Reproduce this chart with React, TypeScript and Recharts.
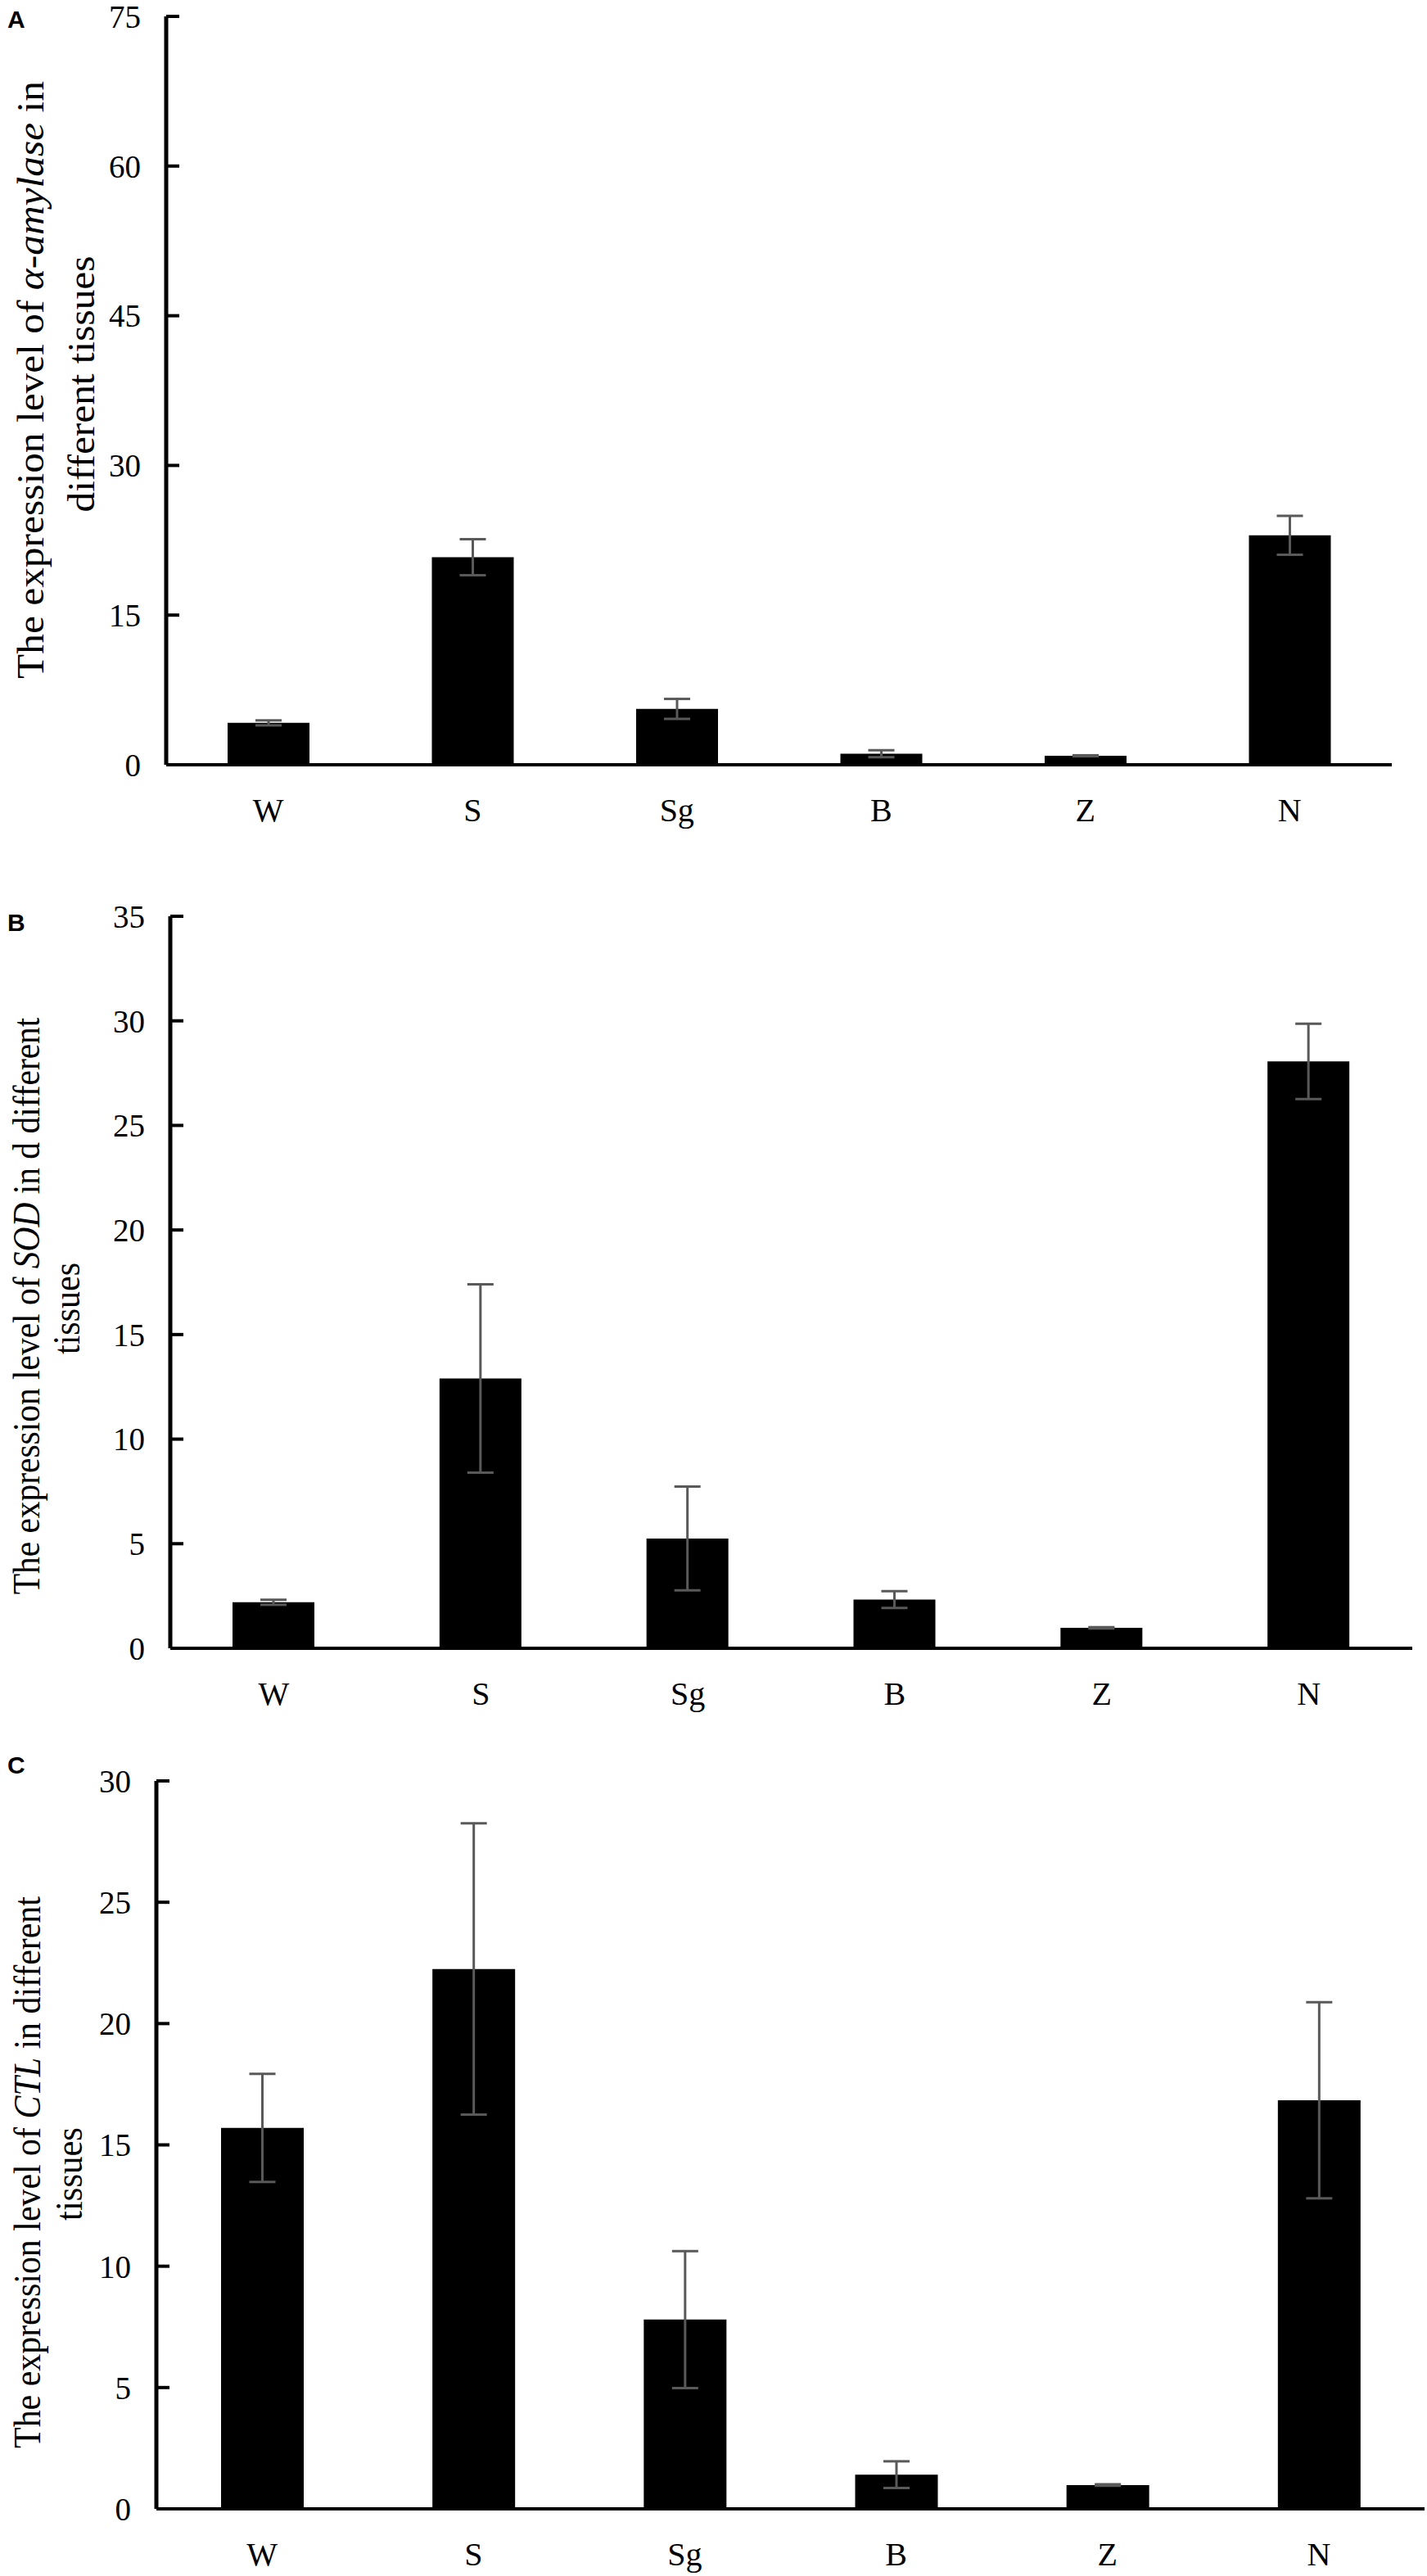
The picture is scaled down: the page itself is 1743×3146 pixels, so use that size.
import { useLayoutEffect, useRef, useState } from 'react';
import { BarChart, Bar, XAxis, YAxis, ErrorBar } from 'recharts';

// tissues on the x axis
const tissues = ['W', 'S', 'Sg', 'B', 'Z', 'N'];

// A: alpha-amylase
const amylaseMean = [4.2, 20.8, 5.6, 1.1, 0.9, 23.0];
const amylaseErr = [0.25, 1.8, 1.0, 0.35, 0.05, 1.95];
const amylaseTicks = [0, 15, 30, 45, 60, 75];

// B: SOD
const sodMean = [2.2, 12.9, 5.25, 2.33, 0.98, 28.06];
const sodErr = [0.12, 4.5, 2.48, 0.4, 0.03, 1.8];
const sodTicks = [0, 5, 10, 15, 20, 25, 30, 35];

// C: CTL
const ctlMean = [15.7, 22.25, 7.8, 1.41, 0.98, 16.84];
const ctlErr = [2.23, 6.0, 2.82, 0.55, 0.03, 4.04];
const ctlTicks = [0, 5, 10, 15, 20, 25, 30];

const FONT = '"Liberation Serif", "Times New Roman", serif';
const W = 1743;

type Part = { t: string; i?: boolean };
type Line = { x: number; y: number; len: number; parts: Part[] };

// rotated axis title squeezed to the length measured on the figure
const FitText = ({ x, y, len, parts }: Line) => {
  const ref = useRef<SVGTextElement>(null);
  const [sx, setSx] = useState(1);
  useLayoutEffect(() => {
    if (ref.current) {
      const w = ref.current.getComputedTextLength();
      if (w > 0) setSx(len / w);
    }
  }, [len]);
  return (
    <text
      ref={ref}
      transform={`translate(${x},${y}) rotate(-90) scale(${sx},1)`}
      textAnchor="middle"
      fontFamily={FONT}
      fontSize={46}
      fill="#000"
    >
      {parts.map((s, j) => (
        <tspan key={j} fontStyle={s.i ? 'italic' : 'normal'}>
          {s.t}
        </tspan>
      ))}
    </text>
  );
};

interface PanelProps {
  letter: string;
  letterY: number;
  mean: number[];
  err: number[];
  ticks: number[];
  top: number;
  height: number;
  marginTop: number;
  marginRight: number;
  axisWidth: number;
  xAxisHeight: number;
  barSize: number;
  lines: Line[];
}

const Panel = (p: PanelProps) => {
  const data = tissues.map((name, i) => ({ name, value: p.mean[i], err: p.err[i] }));
  const max = p.ticks[p.ticks.length - 1];

  const renderTitle = () => (
    <g>
      <text x={9} y={p.letterY} fontFamily='"Liberation Sans", Arial, sans-serif' fontWeight="bold" fontSize={30} fill="#000">
        {p.letter}
      </text>
      {p.lines.map((l, k) => (
        <FitText key={k} {...l} />
      ))}
    </g>
  );

  return (
    <div style={{ position: 'absolute', left: 0, top: p.top }}>
      <BarChart
        width={W}
        height={p.height}
        data={data}
        margin={{ top: p.marginTop, right: p.marginRight, bottom: 0, left: 0 }}
        barSize={p.barSize}
      >
        <XAxis
          dataKey="name"
          height={p.xAxisHeight}
          axisLine={{ stroke: '#000', strokeWidth: 4 }}
          tickLine={false}
          tickSize={0}
          tickMargin={41}
          tick={{ fill: '#000', fontSize: 40, fontFamily: FONT }}
        />
        <YAxis
          width={p.axisWidth}
          domain={[0, max]}
          ticks={p.ticks}
          interval={0}
          axisLine={{ stroke: '#000', strokeWidth: 5 }}
          tickLine={{ stroke: '#000', strokeWidth: 4 }}
          tickSize={-16}
          tickMargin={47}
          tick={{ fill: '#000', fontSize: 39, fontFamily: FONT }}
          label={renderTitle}
        />
        <Bar dataKey="value" fill="#000" isAnimationActive={false}>
          <ErrorBar dataKey="err" width={16} stroke="#595959" strokeWidth={3} direction="y" />
        </Bar>
      </BarChart>
    </div>
  );
};

export default function App() {
  return (
    <div style={{ position: 'absolute', left: 0, top: 0, width: W, height: 3146, background: '#fff' }}>
      <Panel
        letter="A"
        letterY={34}
        mean={amylaseMean}
        err={amylaseErr}
        ticks={amylaseTicks}
        top={0}
        height={1060}
        marginTop={20}
        marginRight={43}
        axisWidth={203}
        xAxisHeight={126}
        barSize={100}
        lines={[
          { x: 53, y: 464, len: 730, parts: [{ t: 'The expression level of ' }, { t: 'α-amylase', i: true }, { t: ' in' }] },
          { x: 115, y: 469, len: 313, parts: [{ t: 'different tissues' }] },
        ]}
      />
      <Panel
        letter="B"
        letterY={77}
        mean={sodMean}
        err={sodErr}
        ticks={sodTicks}
        top={1060}
        height={1090}
        marginTop={59}
        marginRight={18}
        axisWidth={208}
        xAxisHeight={137}
        barSize={100}
        lines={[
          { x: 48, y: 535, len: 705, parts: [{ t: 'The expression level of ' }, { t: 'SOD', i: true }, { t: ' in d different' }] },
          { x: 97, y: 538, len: 112, parts: [{ t: 'tissues' }] },
        ]}
      />
      <Panel
        letter="C"
        letterY={46}
        mean={ctlMean}
        err={ctlErr}
        ticks={ctlTicks}
        top={2120}
        height={1026}
        marginTop={55}
        marginRight={3}
        axisWidth={191}
        xAxisHeight={82}
        barSize={101}
        lines={[
          { x: 49, y: 533, len: 674, parts: [{ t: 'The expression level of ' }, { t: 'CTL', i: true }, { t: ' in different' }] },
          { x: 100, y: 535, len: 114, parts: [{ t: 'tissues' }] },
        ]}
      />
    </div>
  );
}
